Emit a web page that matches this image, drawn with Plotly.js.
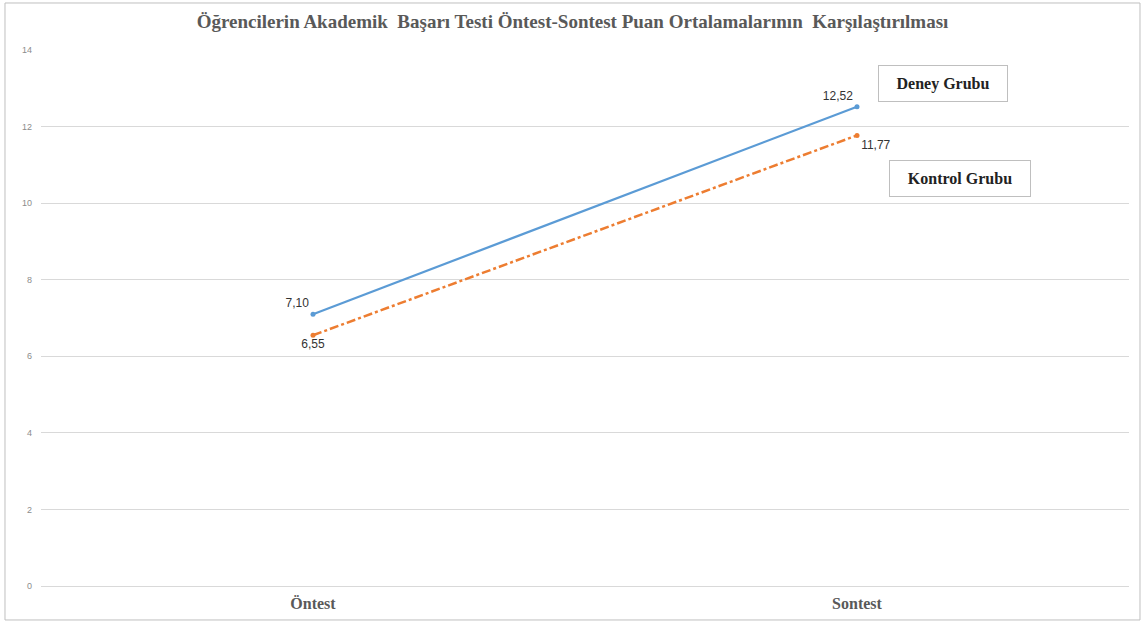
<!DOCTYPE html>
<html><head><meta charset="utf-8">
<script src="https://cdn.plot.ly/plotly-3.0.1.min.js"></script>
<style>html,body{margin:0;padding:0;background:#fff}#c{width:1145px;height:624px}</style>
</head><body><div id="c"></div>
<script>
const categories = ["Öntest", "Sontest"];
const deneyValues = [7.10, 12.52];
const kontrolValues = [6.55, 11.77];
const deneyLabels = ["7,10", "12,52"];
const kontrolLabels = ["6,55", "11,77"];
const yTicks = [0, 2, 4, 6, 8, 10, 12, 14];

const traces = [
  {x: categories, y: deneyValues, type: "scatter", mode: "lines+markers+text",
   name: "Deney Grubu", text: deneyLabels, textposition: ["top left", "top left"],
   textfont: {family: "Liberation Sans, Arial", size: 12, color: "#333333"},
   line: {color: "#5b9bd5", width: 2.2}, marker: {color: "#5b9bd5", size: 5}},
  {x: categories, y: kontrolValues, type: "scatter", mode: "lines+markers+text",
   name: "Kontrol Grubu", text: kontrolLabels, textposition: ["bottom center", "bottom right"],
   textfont: {family: "Liberation Sans, Arial", size: 12, color: "#333333"},
   line: {color: "#ed7d31", width: 2.5, dash: "dashdot"}, marker: {color: "#ed7d31", size: 5}}
];

const layout = {
  width: 1145, height: 624,
  margin: {l: 41, r: 16, t: 50, b: 38},
  paper_bgcolor: "#fff", plot_bgcolor: "#fff",
  showlegend: false,
  title: {text: "Öğrencilerin Akademik  Başarı Testi Öntest-Sontest Puan Ortalamalarının  Karşılaştırılması",
          font: {family: "Liberation Serif, Times New Roman", size: 19, color: "#595959", weight: "bold"},
          x: 0.5, xanchor: "center", y: 0.965, yanchor: "middle"},
  xaxis: {type: "category", range: [-0.5, 1.5], showgrid: false, zeroline: false,
          showline: false, ticks: "", ticklabelstandoff: 6,
          tickfont: {family: "Liberation Serif, Times New Roman", size: 16, color: "#595959", weight: "bold"}},
  yaxis: {range: [0, 14], tickvals: yTicks, ticktext: yTicks.map(String),
          showgrid: true, gridcolor: "#d9d9d9", gridwidth: 1, zeroline: true, zerolinecolor: "#d9d9d9",
          showline: false, ticks: "", ticklabelstandoff: 8,
          tickfont: {family: "Liberation Sans, Arial", size: 9, color: "#8c8c8c"}},
  shapes: [
    {type: "rect", xref: "paper", yref: "paper", x0: -0.0331, x1: 1.0101, y0: -0.0634, y1: 1.0877,
     line: {color: "#bfbfbf", width: 1}, fillcolor: "rgba(0,0,0,0)", layer: "below"}
  ],
  annotations: [
    {xref: "paper", yref: "y", x: 0.829, y: 13.13, xanchor: "center", yanchor: "middle",
     text: "<b>Deney Grubu</b>", showarrow: false,
     font: {family: "Liberation Serif, Times New Roman", size: 16, color: "#222"},
     bordercolor: "#bfbfbf", borderwidth: 1, width: 126, height: 33, align: "center", valign: "middle", bgcolor: "#fff"},
    {xref: "paper", yref: "y", x: 0.845, y: 10.65, xanchor: "center", yanchor: "middle",
     text: "<b>Kontrol Grubu</b>", showarrow: false,
     font: {family: "Liberation Serif, Times New Roman", size: 16, color: "#222"},
     bordercolor: "#bfbfbf", borderwidth: 1, width: 138, height: 33, align: "center", valign: "middle", bgcolor: "#fff"}
  ]
};
Plotly.newPlot("c", traces, layout, {displayModeBar: false, staticPlot: true});
</script></body></html>
